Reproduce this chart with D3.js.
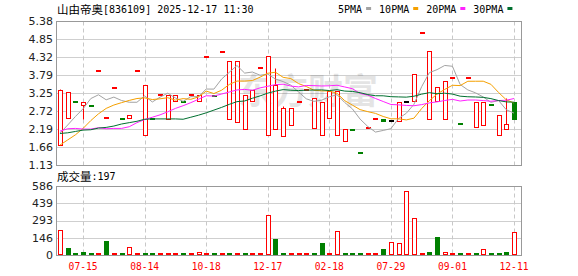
<!DOCTYPE html>
<html>
<head>
<meta charset="utf-8">
<script src="https://cdn.jsdelivr.net/npm/d3@7"></script>
<style>
  body { margin: 0; background: #fff; }
  svg text { font-family: "DejaVu Sans", sans-serif; }
</style>
</head>
<body>
<svg id="chart" width="578" height="276"></svg>
<script>
// daily candles, oldest first
const OPEN = [1.71, 2.51, 2.99, 2.89, 2.86, 3.90, 2.51, 3.39, 2.48, 2.51,
  3.90, 2.01, 2.49, 3.19, 2.50, 3.01, 2.98, 3.19, 3.01, 4.31,
  3.18, 4.46, 2.50, 2.39, 2.18, 3.02, 3.99, 2.01, 2.18, 1.98,
  2.30, 2.99, 3.33, 2.21, 2.01, 2.51, 2.01, 1.83, 2.16, 1.48,
  2.21, 2.48, 2.49, 2.42, 2.42, 2.98, 3.01, 5.02, 2.50, 3.01,
  2.50, 3.69, 2.33, 3.69, 2.24, 2.30, 2.89, 2.01, 2.18, 3.00];
const CLOSE = [3.34, 3.28, 2.99, 2.98, 2.86, 3.90, 2.54, 3.39, 2.48, 2.60,
  3.90, 3.48, 2.49, 3.19, 3.19, 3.19, 2.98, 3.19, 3.19, 4.31,
  3.18, 4.46, 4.19, 4.19, 3.19, 3.34, 3.99, 4.34, 3.48, 2.81,
  2.81, 2.99, 3.33, 3.10, 2.99, 3.30, 3.30, 2.18, 2.16, 1.48,
  2.21, 2.48, 2.42, 2.42, 2.98, 2.98, 3.81, 5.02, 4.49, 3.42,
  3.60, 3.69, 2.33, 3.69, 2.99, 2.99, 2.89, 2.60, 2.33, 2.50];
const HIGH = [3.37, 3.28, 2.99, 2.98, 2.86, 3.90, 2.54, 3.39, 2.48, 2.60,
  3.90, 3.48, 2.49, 3.19, 3.19, 3.19, 2.98, 3.19, 3.19, 4.31,
  3.18, 4.46, 4.19, 4.19, 3.19, 3.34, 3.99, 4.34, 3.98, 2.87,
  2.81, 2.99, 3.33, 3.10, 2.99, 3.30, 3.30, 2.18, 2.16, 1.48,
  2.21, 2.48, 2.49, 2.42, 2.98, 2.98, 3.81, 5.02, 4.49, 3.42,
  3.60, 3.69, 2.33, 3.69, 2.99, 2.99, 2.89, 2.60, 3.12, 3.00];
const LOW = [1.71, 2.51, 2.99, 2.50, 2.86, 3.90, 2.51, 3.39, 2.48, 2.51,
  3.90, 2.01, 2.49, 3.19, 2.50, 3.01, 2.98, 3.19, 3.01, 4.31,
  3.18, 4.46, 2.50, 2.39, 2.18, 3.02, 3.99, 2.01, 2.18, 1.98,
  2.30, 2.99, 3.33, 2.21, 2.01, 2.51, 2.01, 1.83, 2.16, 1.48,
  2.21, 2.48, 2.42, 2.42, 2.42, 2.98, 3.01, 5.02, 2.50, 3.01,
  2.50, 3.69, 2.33, 3.69, 2.24, 2.30, 2.89, 2.01, 2.18, 2.50];
const VOLUME = [210, 59, 11, 25, 3, 3, 119, 3, 3, 65,
  3, 3, 3, 3, 3, 3, 17, 3, 25, 3,
  3, 3, 3, 3, 3, 3, 3, 340, 136, 3,
  3, 3, 3, 3, 102, 17, 201, 17, 3, 3,
  17, 3, 51, 110, 102, 541, 312, 3, 25, 153,
  23, 3, 3, 3, 3, 48, 3, 3, 25, 197];

// moving average values before the window is full
const MA5_HEAD = [2.07, 2.31, 2.56, 2.79];
const MA10_HEAD = [1.72, 1.87, 2.02, 2.21, 2.44, 2.64, 2.80, 2.90, 2.97];
const MA20_HEAD = [2.13, 2.20, 2.21, 2.19, 2.19, 2.23, 2.20, 2.21, 2.21, 2.26,
  2.38, 2.47, 2.54, 2.61, 2.70, 2.80, 2.88, 2.97, 3.07];
const MA30_HEAD = [2.06, 2.08, 2.12, 2.16, 2.17, 2.22, 2.24, 2.28, 2.34, 2.38,
  2.42, 2.48, 2.49, 2.49, 2.49, 2.49, 2.48, 2.54, 2.60, 2.67,
  2.75, 2.83, 2.92, 3.00, 3.02, 3.10, 3.17, 3.25, 3.31];

const TICK_INDEX = [3, 11, 19, 27, 35, 43, 51, 59];
const TICK_LABELS = ["07-15", "08-14", "10-18", "12-17", "02-18", "07-29", "09-01", "12-11"];
const PRICE_TICKS = [5.38, 4.85, 4.32, 3.79, 3.25, 2.72, 2.19, 1.66, 1.13];
const VOL_TICKS = [586, 439, 293, 146, 0];

const MA_NAMES = ["5PMA", "10PMA", "20PMA", "30PMA"];
const MA_COLORS = ["#a3a3a3", "#f5a000", "#ff22ff", "#006f2f"];

const RED = "#ff0000";
const GREEN = "#008000";

const svg = d3.select("#chart");

const LEFT = 56.5;
const RIGHT = 521.5;
const MAIN = { top: 21.5, bottom: 165.5 };
const VOLP = { top: 186.5, bottom: 255.5 };

const x = d3.scalePoint().domain(d3.range(CLOSE.length)).range([60, 514]);
const y = d3.scaleLinear().domain([1.13, 5.38]).range([165, 21]);
const yv = d3.scaleLinear().domain([0, 586]).range([255, 186]);

const px = (v) => Math.round(v) + 0.5;

function movingAverage(n, head) {
  return CLOSE.map((c, i) =>
    i < head.length ? head[i] : d3.mean(CLOSE.slice(i - n + 1, i + 1))
  );
}

const maSeries = [
  movingAverage(5, MA5_HEAD),
  movingAverage(10, MA10_HEAD),
  movingAverage(20, MA20_HEAD),
  movingAverage(30, MA30_HEAD),
];

function candleColor(i) {
  if (CLOSE[i] > OPEN[i]) return RED;
  if (CLOSE[i] < OPEN[i]) return GREEN;
  const prev = i > 0 ? CLOSE[i - 1] : OPEN[i];
  if (CLOSE[i] > prev) return RED;
  if (CLOSE[i] < prev) return GREEN;
  return "#000";
}

function volColor(i) {
  return i === 0 || CLOSE[i] >= CLOSE[i - 1] ? RED : GREEN;
}

// title / label text mixing a CJK part and a monospace part
function mixedText(xPos, yPos, cjk, latin) {
  const t = svg
    .append("text")
    .attr("x", xPos)
    .attr("y", yPos)
    .attr("fill", "#000");
  t.append("tspan")
    .style("font-family", "'Noto Sans CJK SC', sans-serif")
    .attr("font-size", 11.5)
    .text(cjk);
  t.append("tspan")
    .style("font-family", "'DejaVu Sans Mono', monospace")
    .attr("font-size", 10)
    .attr("dy", -1)
    .text(latin);
}

mixedText(57, 13.5, "山由帝奥", "[836109] 2025-12-17 11:30");
mixedText(57, 181, "成交量", ":" + VOLUME[VOLUME.length - 1]);

let lx = 338;
MA_NAMES.forEach((name, k) => {
  const t = svg
    .append("text")
    .attr("x", lx)
    .attr("y", 12.5)
    .attr("font-size", 10)
    .style("font-family", "'DejaVu Sans Mono', monospace")
    .attr("fill", "#000")
    .text(name);
  const w = t.node().getComputedTextLength();
  svg
    .append("rect")
    .attr("x", lx + w + 4)
    .attr("y", 7)
    .attr("width", 5)
    .attr("height", 3)
    .attr("fill", MA_COLORS[k]);
  lx += w + 4 + 5 + 8;
});

// ---- grids
function panelGrid(top, bottom, ticks, scale) {
  svg
    .append("g")
    .selectAll("line")
    .data(ticks.filter((t) => px(scale(t)) > top && px(scale(t)) < bottom))
    .join("line")
    .attr("x1", LEFT)
    .attr("x2", RIGHT)
    .attr("y1", (d) => px(scale(d)))
    .attr("y2", (d) => px(scale(d)))
    .attr("stroke", "#cfcfcf");

  svg
    .append("g")
    .selectAll("line")
    .data(TICK_INDEX)
    .join("line")
    .attr("x1", (i) => px(x(i)))
    .attr("x2", (i) => px(x(i)))
    .attr("y1", top)
    .attr("y2", bottom)
    .attr("stroke", "#c8c8c8")
    .attr("stroke-dasharray", "4,3");
}

panelGrid(MAIN.top, MAIN.bottom, PRICE_TICKS, y);
panelGrid(VOLP.top, VOLP.bottom, VOL_TICKS, yv);

// watermark
svg
  .append("text")
  .attr("x", 238)
  .attr("y", 104)
  .attr("font-size", 35)
  .attr("font-weight", "bold")
  .style("font-family", "'Noto Sans CJK SC', sans-serif")
  .attr("fill", "#000")
  .attr("opacity", 0.1)
  .text("东方财富");

// ---- candles
const candles = svg.append("g");
d3.range(CLOSE.length).forEach((i) => {
  const cx = Math.round(x(i));
  const col = candleColor(i);
  const top = px(y(Math.max(OPEN[i], CLOSE[i])));
  const bot = px(y(Math.min(OPEN[i], CLOSE[i])));

  if (HIGH[i] > Math.max(OPEN[i], CLOSE[i]) || LOW[i] < Math.min(OPEN[i], CLOSE[i])) {
    candles
      .append("line")
      .attr("x1", cx + 0.5)
      .attr("x2", cx + 0.5)
      .attr("y1", px(y(HIGH[i])))
      .attr("y2", px(y(LOW[i])))
      .attr("stroke", col);
  }

  if (OPEN[i] === CLOSE[i]) {
    candles
      .append("rect")
      .attr("x", cx - 2)
      .attr("y", Math.round(y(CLOSE[i])) - 1)
      .attr("width", 5)
      .attr("height", 2)
      .attr("fill", col);
  } else {
    candles
      .append("rect")
      .attr("x", cx - 1.5)
      .attr("y", top)
      .attr("width", 4)
      .attr("height", Math.max(1, bot - top))
      .attr("fill", col === RED ? "#fff" : col)
      .attr("stroke", col);
  }
});

// ---- moving averages
const line = d3
  .line()
  .x((d, i) => x(i))
  .y((d) => y(d));

svg
  .append("g")
  .selectAll("path")
  .data(maSeries)
  .join("path")
  .attr("d", line)
  .attr("fill", "none")
  .attr("stroke", (d, k) => MA_COLORS[k])
  .attr("stroke-width", 1);

// ---- volume bars
const vols = svg.append("g");
VOLUME.forEach((v, i) => {
  const cx = Math.round(x(i));
  const col = volColor(i);
  const top = px(yv(v));
  const h = Math.max(1, 254.5 - top);
  vols
    .append("rect")
    .attr("x", cx - 1.5)
    .attr("y", 254.5 - h)
    .attr("width", 4)
    .attr("height", h)
    .attr("fill", col === RED ? "#fff" : col)
    .attr("stroke", col);
});

// ---- frames
[MAIN, VOLP].forEach((p) => {
  svg
    .append("rect")
    .attr("x", LEFT)
    .attr("y", p.top)
    .attr("width", RIGHT - LEFT)
    .attr("height", p.bottom - p.top)
    .attr("fill", "none")
    .attr("stroke", "#999");
});

// ---- axis labels
svg
  .append("g")
  .selectAll("text")
  .data(PRICE_TICKS)
  .join("text")
  .attr("x", 53)
  .attr("y", (d) => y(d))
  .attr("dy", "0.36em")
  .attr("text-anchor", "end")
  .attr("font-size", 11)
  .attr("fill", "#222")
  .text((d) => d.toFixed(2));

svg
  .append("g")
  .selectAll("text")
  .data(VOL_TICKS)
  .join("text")
  .attr("x", 53)
  .attr("y", (d) => yv(d))
  .attr("dy", "0.36em")
  .attr("text-anchor", "end")
  .attr("font-size", 11)
  .attr("fill", "#222")
  .text((d) => d);

svg
  .append("g")
  .selectAll("text")
  .data(TICK_INDEX)
  .join("text")
  .attr("x", (i) => x(i))
  .attr("y", 270)
  .attr("text-anchor", "middle")
  .attr("font-size", 11)
  .attr("textLength", 29)
  .attr("lengthAdjust", "spacingAndGlyphs")
  .style("font-family", "'DejaVu Sans Mono', monospace")
  .attr("fill", RED)
  .text((i, k) => TICK_LABELS[k]);
</script>
</body>
</html>
